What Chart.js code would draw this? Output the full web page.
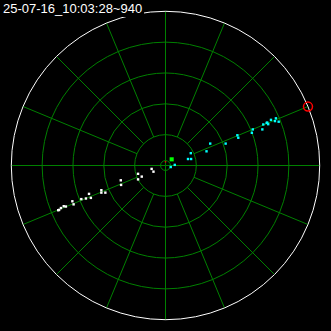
<!DOCTYPE html>
<html>
<head>
<meta charset="utf-8">
<script src="https://cdn.jsdelivr.net/npm/chart.js@4/dist/chart.umd.min.js"></script>
<style>
  html, body { margin: 0; padding: 0; background: #000; }
  #wrap { position: relative; width: 331px; height: 331px; }
  #stamp {
    position: absolute; left: 0; top: 0;
    height: 17px; padding: 1px 2px 0 3px; box-sizing: border-box;
    background: #000; color: #fff;
    font: 13px "Liberation Sans", Arial, sans-serif; line-height: 16px;
    white-space: nowrap;
  }
</style>
</head>
<body>
<div id="wrap">
  <canvas id="scope" width="331" height="331"></canvas>
  <div id="stamp">25-07-16_10:03:28~940</div>
</div>
<script>
// range rings and spoke bearings (range units, degrees)
const ringRanges = [1, 2, 3, 4];
const outerRange = 5;
const hubRange = 0.16;
const spokeBearings = [0, 22.5, 45, 67.5, 90, 112.5, 135, 157.5, 180, 202.5, 225, 247.5, 270, 292.5, 315, 337.5];

// targets (east, north in range units)
const whiteX = [-0.45, -0.39, -0.89, -0.77, -0.89, -1.45, -1.44, -2.08, -2.08, -1.95, -2.48, -2.42, -2.58, -2.73, -3.02, -2.98, -3.23, -3.30, -3.39, -3.45, -3.48];
const whiteY = [-0.11, -0.20, -0.27, -0.36, -0.45, -0.48, -0.63, -0.80, -0.88, -0.88, -0.92, -1.05, -1.07, -1.09, -1.16, -1.26, -1.33, -1.32, -1.38, -1.44, -1.45];

const cyanX = [1.45, 1.33, 1.95, 2.33, 2.36, 2.80, 2.83, 3.14, 3.17, 3.28, 3.33, 3.30, 3.42, 3.55, 3.58, 3.67, 0.82, 0.73, 0.83, 0.30, 0.17];
const cyanY = [0.71, 0.46, 0.71, 0.98, 0.90, 1.06, 1.17, 1.17, 1.33, 1.38, 1.34, 1.39, 1.48, 1.44, 1.53, 1.42, 0.40, 0.21, 0.21, 0.02, -0.05];

const ownX = [0.20];
const ownY = [0.20];

const markX = [4.62];
const markY = [1.91];

const headX = [0];
const headY = [0.12];

const gridColor = '#008000';

function toPoints(xs, ys) {
  return xs.map((x, i) => ({ x: x, y: ys[i] }));
}

const radarGrid = {
  id: 'radarGrid',
  beforeDatasetsDraw(chart) {
    const { ctx, scales: { x, y } } = chart;
    const cx = x.getPixelForValue(0);
    const cy = y.getPixelForValue(0);
    const unit = x.getPixelForValue(1) - cx;
    ctx.save();
    ctx.lineWidth = 1;
    ctx.strokeStyle = gridColor;
    for (const r of [hubRange, ...ringRanges]) {
      ctx.beginPath();
      ctx.arc(cx, cy, r * unit, 0, Math.PI * 2);
      ctx.stroke();
    }
    for (const b of spokeBearings) {
      const a = b * Math.PI / 180;
      const r0 = b % 90 === 0 ? 0 : ringRanges[0];
      ctx.beginPath();
      ctx.moveTo(cx + Math.sin(a) * r0 * unit, cy - Math.cos(a) * r0 * unit);
      ctx.lineTo(cx + Math.sin(a) * outerRange * unit, cy - Math.cos(a) * outerRange * unit);
      ctx.stroke();
    }
    ctx.strokeStyle = '#ffffff';
    ctx.beginPath();
    ctx.arc(cx, cy, outerRange * unit, 0, Math.PI * 2);
    ctx.stroke();
    ctx.restore();
  }
};

const half = 331 / 2 / 32;

new Chart(document.getElementById('scope'), {
  type: 'scatter',
  data: {
    datasets: [
      { data: toPoints(whiteX, whiteY), pointStyle: 'rect', pointRadius: 1.7, pointBorderWidth: 0, pointBackgroundColor: '#ffffff' },
      { data: toPoints(cyanX, cyanY), pointStyle: 'rect', pointRadius: 1.7, pointBorderWidth: 0, pointBackgroundColor: '#00ffff' },
      { data: toPoints(ownX, ownY), pointStyle: 'rect', pointRadius: 2.9, pointBorderWidth: 0, pointBackgroundColor: '#00ff00' },
      { data: toPoints(headX, headY), pointStyle: 'rect', pointRadius: 1, pointBorderWidth: 0, pointBackgroundColor: '#ff0000' },
      { data: toPoints(markX, markY), pointStyle: 'circle', pointRadius: 4.5, pointBorderWidth: 1.5, pointBorderColor: '#ff0000', pointBackgroundColor: 'rgba(0,0,0,0)' }
    ]
  },
  options: {
    responsive: false,
    animation: false,
    layout: { padding: 0 },
    plugins: { legend: { display: false }, tooltip: { enabled: false } },
    scales: {
      x: { type: 'linear', min: -half, max: half, display: false },
      y: { type: 'linear', min: -half, max: half, display: false }
    }
  },
  plugins: [radarGrid]
});
</script>
</body>
</html>
